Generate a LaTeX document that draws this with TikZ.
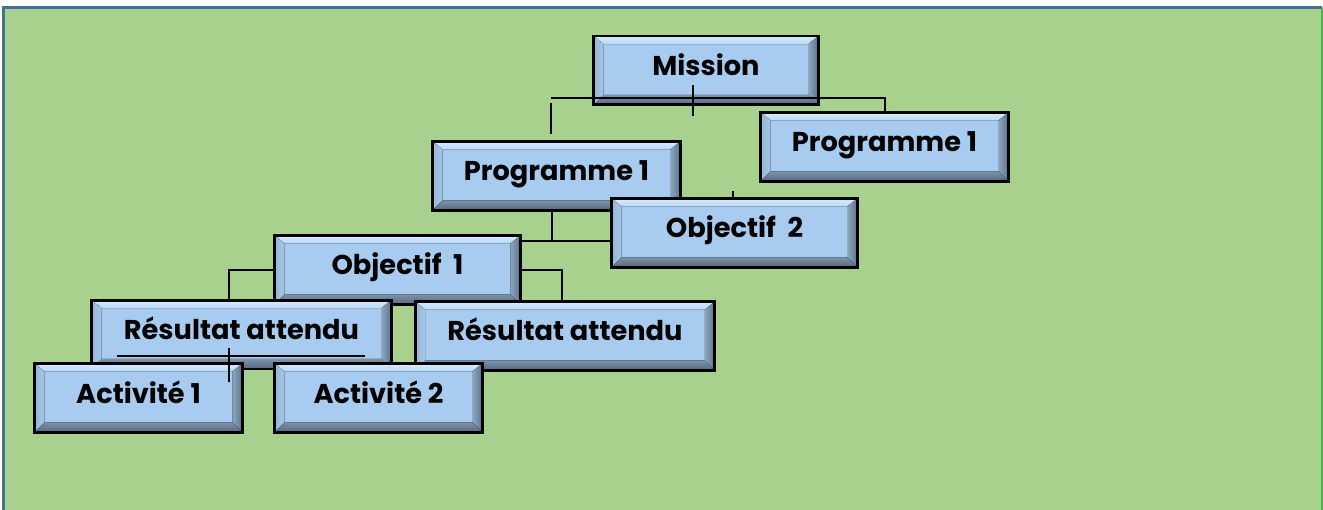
\documentclass[tikz,border=0pt]{standalone}
\usepackage{fontspec}
\setmainfont{Poppins}
\definecolor{bggreen}{RGB}{169,209,142}
\definecolor{frameblue}{RGB}{65,113,156}
\definecolor{boxface}{RGB}{168,204,240}
\begin{document}
\begin{tikzpicture}[
        x=0.02cm, y=-0.02cm,
        bevelbox/.style={rectangle, draw=black, line width=1.7pt, inner sep=0pt,
            minimum height=1.38cm, text height=0.4cm, text depth=0.2cm,
            font=\fontsize{15.5}{18}\selectfont\bfseries,
            path picture={
                \coordinate (bl) at (path picture bounding box.south west);
                \coordinate (tr) at (path picture bounding box.north east);
                \coordinate (ibl) at ([shift={(0.2cm,0.2cm)}]bl);
                \coordinate (itr) at ([shift={(-0.2cm,-0.16cm)}]tr);
                \fill[boxface] (bl) rectangle (tr);
                \fill[top color={rgb,255:red,214;green,236;blue,255}, bottom color={rgb,255:red,184;green,216;blue,248}]
                    (bl |- tr) -- (tr) -- (itr) -- (ibl |- itr) -- cycle;
                \fill[left color={rgb,255:red,150;green,182;blue,214}, right color={rgb,255:red,164;green,198;blue,232}]
                    (bl) -- (ibl) -- (ibl |- itr) -- (bl |- tr) -- cycle;
                \fill[left color={rgb,255:red,140;green,166;blue,192}, right color={rgb,255:red,92;green,114;blue,140}]
                    (tr |- bl) -- (tr) -- (itr) -- (itr |- ibl) -- cycle;
                \fill[top color={rgb,255:red,124;green,146;blue,170}, bottom color={rgb,255:red,84;green,102;blue,124}]
                    (bl) -- (tr |- bl) -- (itr |- ibl) -- (ibl) -- cycle;
            }},
        link/.style={draw=black, line width=0.6pt}
    ]
        % background and frame
        \useasboundingbox (0,0) rectangle (1323,510);
        \fill[white] (0,0) rectangle (1323,510);
        \fill[bggreen] (3,7) rectangle (1323,510);
        \draw[frameblue, line width=1.7pt] (3.5,512) -- (3.5,7.5) -- (1322,7.5);
        \draw[green!40!gray, line width=0.6pt] (1322,9) -- (1322,512);

        % boxes, back to front
        \node[bevelbox, minimum width=4.5cm] (mission) at (706,70.5) {Mission};
        \node[bevelbox, minimum width=4.96cm] (progB) at (884.5,147) {Programme 1};
        \node[bevelbox, minimum width=4.96cm] (progA) at (556.5,176) {Programme 1};
        \node[bevelbox, minimum width=4.92cm] (obj2) at (734.5,233) {Objectif\ \ 2};
        \node[bevelbox, minimum width=4.92cm] (obj1) at (397.5,270) {Objectif\ \ 1};
        \node[bevelbox, minimum width=6.0cm] (res1) at (241.5,334.5) {Résultat attendu};
        \node[bevelbox, minimum width=6.0cm] (res2) at (565,336) {Résultat attendu};
        \node[bevelbox, minimum width=4.16cm] (act1) at (138.5,398) {Activité 1};
        \node[bevelbox, minimum width=4.16cm] (act2) at (378.5,398) {Activité 2};

        % connector ends
        \coordinate (m1) at (693,85);
        \coordinate (m2) at (693,116);
        \coordinate (m3) at (551,98);
        \coordinate (m4) at (885,98);
        \coordinate (m5) at (551,103);
        \coordinate (m6) at (551,134);
        \coordinate (p1) at (552,241);
        \coordinate (p2) at (733,191);
        \coordinate (o1) at (229,270);
        \coordinate (o2) at (562,270);
        \coordinate (r1) at (117,356);
        \coordinate (r2) at (365,356);
        \coordinate (r3) at (229,348);
        \coordinate (r4) at (229,382);

        % connectors
        \draw[link] (m1) -- (m2);
        \draw[link] (m3) -- (m4) -- (m4 |- progB.north);
        \draw[link] (m5) -- (m6);
        \draw[link] (p1 |- progA.south) -- (p1);
        \draw[link] (obj1.east |- p1) -- (obj2.west |- p1);
        \draw[link] (p2) -- (p2 |- obj2.north);
        \draw[link] (obj1.west) -- (o1) -- (o1 |- res1.north);
        \draw[link] (obj1.east) -- (o2) -- (o2 |- res2.north);
        \draw[link] (r1) -- (r2);
        \draw[link] (r3) -- (r4);
    \end{tikzpicture}
\end{document}
